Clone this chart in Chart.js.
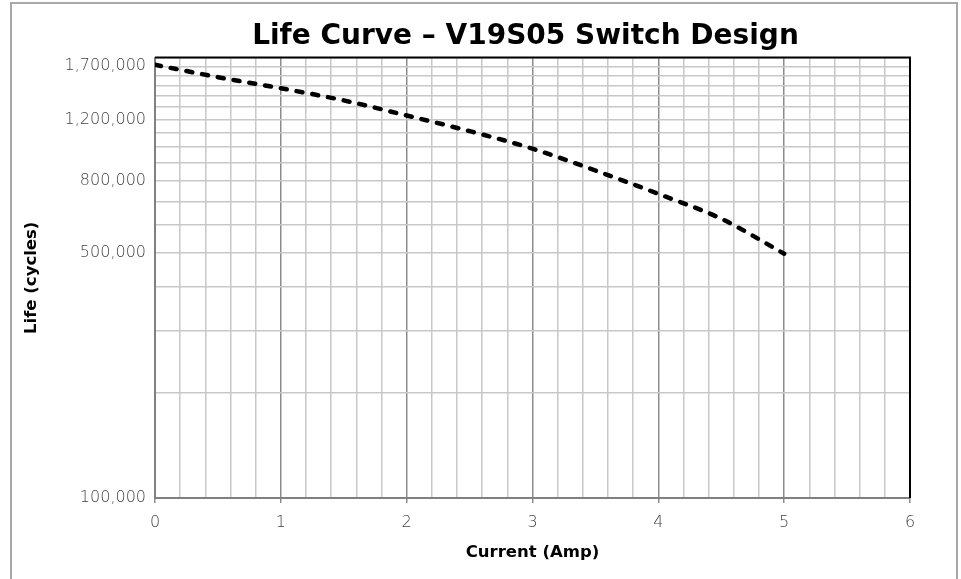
<!DOCTYPE html>
<html>
<head>
<meta charset="utf-8">
<script src="https://cdn.jsdelivr.net/npm/chart.js@4.4.1/dist/chart.umd.min.js"></script>
<style>
  body { margin: 0; background: #fff; }
  #frame { position: absolute; left: 10px; top: 2px; width: 944px; height: 600px;
           border: 2px solid #a8a8a8; border-bottom: none; }
  #wrap { position: absolute; left: 0; top: 0; width: 961px; height: 579px; }
</style>
</head>
<body>
<div id="frame"></div>
<div id="wrap"><canvas id="lifeChart" width="961" height="579"></canvas></div>
<script>
// values
const currentAmp = [0, 0.5, 1, 1.5, 2, 2.5, 3, 3.5, 4, 4.5, 5];
const lifeCycles = [1717000, 1583000, 1472000, 1359000, 1231000, 1111000, 990000, 858000, 736000, 625000, 497000];
const yGridValues = [100000, 200000, 300000, 400000, 500000, 600000, 700000, 800000, 900000,
                     1000000, 1100000, 1200000, 1300000, 1400000, 1500000, 1600000, 1700000, 1800000];
const yLabelValues = [100000, 500000, 800000, 1200000, 1700000];

const CHART = document.getElementById("lifeChart");

const isWhole = v => Math.abs(v - Math.round(v)) < 1e-6;
const tickFont = { family: '"DejaVu Sans"', size: 16, weight: 200 };
const boldFont = (size) => ({ family: '"DejaVu Sans"', size: size, weight: 'bold', lineHeight: 1.2 });

const frameLines = {
    id: 'frameLines',
    afterLayout(chart) {
        // title sits a bit right of the plot centre
        if (chart.titleBlock) chart.titleBlock.left = 141;
    },
    beforeDatasetsDraw(chart) {
        const {ctx, chartArea} = chart;
        ctx.save();
        ctx.strokeStyle = '#000';
        ctx.lineWidth = 2;
        ctx.beginPath();
        ctx.moveTo(chartArea.left, chartArea.top);
        ctx.lineTo(chartArea.right, chartArea.top);
        ctx.lineTo(chartArea.right, chartArea.bottom);
        ctx.stroke();
        ctx.restore();
    }
};

const lifeChart = new Chart(CHART, {
    type: 'line',
    data: {
        datasets: [{
            label: 'Life',
            data: currentAmp.map((a, i) => ({x: a, y: lifeCycles[i]})),
            borderColor: '#000',
            borderWidth: 4.5,
            borderDash: [6, 10],
            borderCapStyle: 'round',
            cubicInterpolationMode: 'monotone',
            pointRadius: 0,
            fill: false
        }]
    },
    options: {
        responsive: false,
        animation: false,
        layout: { padding: { left: 18, right: 51, top: 0, bottom: 0 } },
        plugins: {
            legend: { display: false },
            tooltip: { enabled: false },
            title: {
                display: true,
                text: 'Life Curve – V19S05 Switch Design',
                color: '#000',
                font: boldFont(28),
                padding: { top: 20, bottom: 4 }
            }
        },
        scales: {
            x: {
                type: 'linear',
                min: 0,
                max: 6,
                afterFit(scale) { scale.height = 81; },
                ticks: {
                    stepSize: 0.2,
                    autoSkip: false,
                    maxRotation: 0,
                    padding: 10,
                    color: '#444',
                    font: tickFont,
                    callback: v => isWhole(v) ? String(Math.round(v)) : ''
                },
                grid: {
                    color: c => isWhole(c.tick.value) ? '#8c8c8c' : '#c8c8c8',
                    tickColor: c => isWhole(c.tick.value) ? '#8c8c8c' : 'rgba(0,0,0,0)',
                    tickLength: 5,
                    lineWidth: 1.5
                },
                border: { color: '#808080', width: 2 },
                title: {
                    display: true,
                    text: 'Current (Amp)',
                    color: '#000',
                    font: boldFont(16.5),
                    padding: { top: 0, bottom: 16 }
                }
            },
            y: {
                type: 'logarithmic',
                min: 100000,
                max: 1800000,
                afterFit(scale) { scale.width = 137; },
                afterBuildTicks(scale) {
                    scale.ticks = yGridValues.map(v => ({value: v}));
                },
                ticks: {
                    autoSkip: false,
                    padding: 9,
                    color: '#444',
                    font: tickFont,
                    callback: v => yLabelValues.includes(v) ? v.toLocaleString('en-US') : ''
                },
                grid: {
                    color: '#c8c8c8',
                    lineWidth: 1.5,
                    drawTicks: false
                },
                border: { color: '#808080', width: 2 },
                title: {
                    display: true,
                    text: 'Life (cycles)',
                    color: '#000',
                    font: boldFont(16.5),
                    padding: { top: 4, bottom: 0 }
                }
            }
        }
    },
    plugins: [frameLines]
});
</script>
</body>
</html>
